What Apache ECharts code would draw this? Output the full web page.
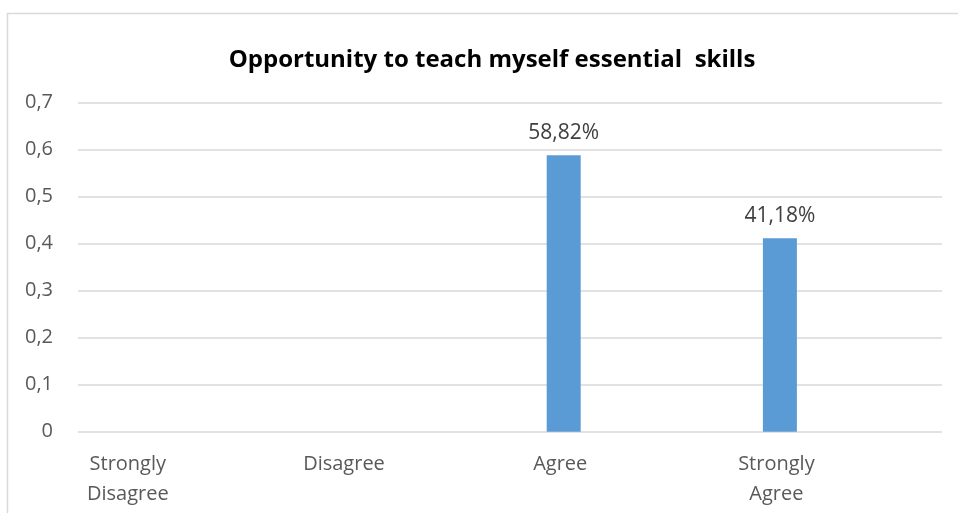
<!DOCTYPE html>
<html><head><meta charset="utf-8">
<script src="https://cdn.jsdelivr.net/npm/echarts@6/dist/echarts.min.js"></script>
<style>html,body{margin:0;padding:0;background:#fff}#c{width:958px;height:513px}</style>
</head><body><div id="c"></div>
<script>
var titleText = 'Opportunity to teach myself essential  skills';
var categories = ['Strongly\nDisagree', 'Disagree', 'Agree', 'Strongly\nAgree'];
var values = [null, null, 0.5882, 0.4118];
var valueLabels = ['', '', '58,82%', '41,18%'];
var yTicks = { min: 0, max: 0.7, interval: 0.1 };

var chart = echarts.init(document.getElementById('c'), null, { renderer: 'canvas' });
var font = '"Open Sans", "Liberation Sans", sans-serif';
chart.setOption({
  animation: false,
  backgroundColor: '#fff',
  title: {
    text: titleText, left: 487, top: 43, textAlign: 'center',
    textStyle: { fontFamily: font, fontWeight: 'bold', fontSize: 24, color: '#000' }
  },
  graphic: [{
    type: 'rect', shape: { x: 7.5, y: 13.5, width: 960, height: 510 },
    style: { fill: 'none', stroke: '#d9d9d9', lineWidth: 1.5 }, silent: true, z: -1
  }],
  grid: [
    { left: 78, right: 16, top: 102.7, bottom: 81.3 },
    { left: 23.2, width: 864.8, top: 102.7, bottom: 81.3 }
  ],
  xAxis: [
    { gridIndex: 0, type: 'category', data: categories, show: false },
    { gridIndex: 1, type: 'category', data: categories,
      axisLine: { show: false }, axisTick: { show: false },
      axisLabel: { color: '#595959', fontFamily: font, fontSize: 20, margin: 18, lineHeight: 30, interval: 0,
        padding: [0, 7, 0, 0] } }
  ],
  yAxis: [
    { gridIndex: 0, type: 'value', min: yTicks.min, max: yTicks.max, interval: yTicks.interval,
      axisLine: { show: false }, axisTick: { show: false },
      splitLine: { lineStyle: { color: '#d9d9d9', width: 1.5 } },
      axisLabel: { color: '#595959', fontFamily: font, fontSize: 20, margin: 25,
        formatter: function (v) { return String(Math.round(v * 10) / 10).replace('.', ','); } } },
    { gridIndex: 1, type: 'value', min: yTicks.min, max: yTicks.max, interval: yTicks.interval, show: false }
  ],
  series: [{
    type: 'bar', xAxisIndex: 1, yAxisIndex: 1, data: values, barWidth: 34,
    itemStyle: { color: '#5B9BD5' },
    label: { show: true, position: 'top', distance: 12, color: '#404040', fontFamily: font, fontSize: 21,
      formatter: function (p) { return valueLabels[p.dataIndex]; } }
  }]
});
</script></body></html>
